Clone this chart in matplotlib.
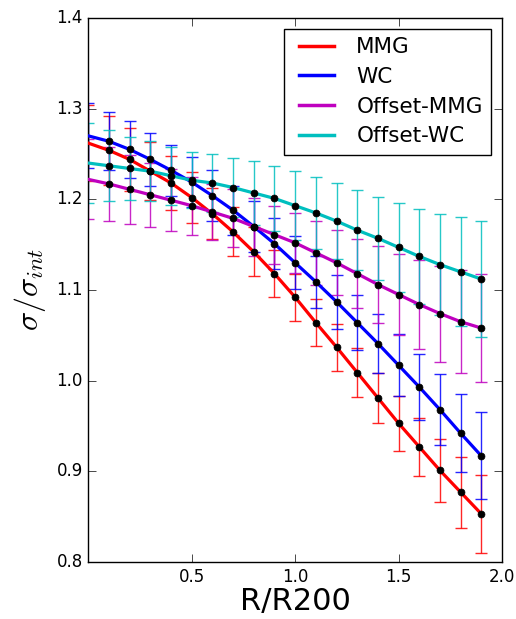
import numpy as np
import matplotlib
matplotlib.use("Agg")
import matplotlib.pyplot as plt

plt.style.use("classic")

# radius bins (R/R200); first point at 0 only anchors the line
r = [0.0, 0.1, 0.2, 0.3, 0.4, 0.5, 0.6, 0.7, 0.8, 0.9, 1.0,
     1.1, 1.2, 1.3, 1.4, 1.5, 1.6, 1.7, 1.8, 1.9]

mmg = [1.262, 1.254, 1.244, 1.231, 1.218, 1.202, 1.184, 1.164, 1.142, 1.118, 1.092,
       1.064, 1.037, 1.009, 0.981, 0.953, 0.927, 0.901, 0.877, 0.853]
mmg_err = [0.042, 0.038, 0.035, 0.032, 0.030, 0.028, 0.028, 0.027, 0.027, 0.026, 0.026,
           0.026, 0.026, 0.027, 0.028, 0.030, 0.032, 0.035, 0.039, 0.043]

wc = [1.270, 1.264, 1.255, 1.244, 1.232, 1.219, 1.204, 1.188, 1.170, 1.151, 1.130,
      1.109, 1.087, 1.064, 1.041, 1.017, 0.993, 0.968, 0.942, 0.917]
wc_err = [0.036, 0.032, 0.031, 0.029, 0.028, 0.028, 0.028, 0.027, 0.028, 0.028, 0.029,
          0.029, 0.030, 0.030, 0.032, 0.034, 0.036, 0.039, 0.043, 0.048]

off_mmg = [1.222, 1.217, 1.211, 1.205, 1.199, 1.193, 1.186, 1.179, 1.170, 1.161, 1.152,
           1.141, 1.130, 1.118, 1.106, 1.095, 1.084, 1.074, 1.065, 1.058]
off_mmg_err = [0.044, 0.041, 0.038, 0.035, 0.034, 0.032, 0.031, 0.032, 0.032, 0.032, 0.033,
               0.035, 0.036, 0.038, 0.042, 0.045, 0.049, 0.053, 0.057, 0.060]

off_wc = [1.240, 1.237, 1.234, 1.231, 1.226, 1.221, 1.218, 1.213, 1.207, 1.201, 1.193,
          1.185, 1.176, 1.166, 1.157, 1.147, 1.137, 1.128, 1.120, 1.112]
off_wc_err = [0.044, 0.039, 0.035, 0.033, 0.032, 0.031, 0.032, 0.033, 0.035, 0.036, 0.038,
              0.040, 0.042, 0.044, 0.046, 0.049, 0.052, 0.056, 0.060, 0.064]

series = [("MMG", mmg, mmg_err, "r"),
          ("WC", wc, wc_err, "b"),
          ("Offset-MMG", off_mmg, off_mmg_err, "m"),
          ("Offset-WC", off_wc, off_wc_err, "c")]

fig = plt.figure(figsize=(5.16, 6.19), dpi=100, facecolor="white")
ax = fig.add_axes([0.171, 0.092, 0.802, 0.879])

for name, y, err, col in series:
    ax.errorbar(r, y, yerr=err, fmt="none", ecolor=col, elinewidth=1.0,
                capsize=4, capthick=1.0, alpha=0.85, zorder=2)
for name, y, err, col in series:
    ax.plot(r, y, "-", color=col, lw=2.3, label=name, zorder=3)
    ax.plot(r[1:], y[1:], "o", color="k", ms=5, mec="k", zorder=4)

ax.set_xlim(0, 2.0)
ax.set_ylim(0.8, 1.4)
ax.set_xticks([0.5, 1.0, 1.5, 2.0])
ax.set_yticks([0.8, 0.9, 1.0, 1.1, 1.2, 1.3, 1.4])
ax.tick_params(labelsize=12, direction="in", length=6)
ax.set_xlabel("R/R200", fontsize=22, labelpad=1)
ax.set_ylabel(r"$\sigma/\sigma_{int}$", fontsize=23, labelpad=6)

leg = ax.legend(loc="upper right", fontsize=15.5, handlelength=2.2,
                handletextpad=0.75, labelspacing=0.45, borderaxespad=0.5,
                fancybox=False, numpoints=2)
for line in leg.get_lines():
    line.set_linewidth(2.5)

fig.savefig("out.png", dpi=100, facecolor="white")
